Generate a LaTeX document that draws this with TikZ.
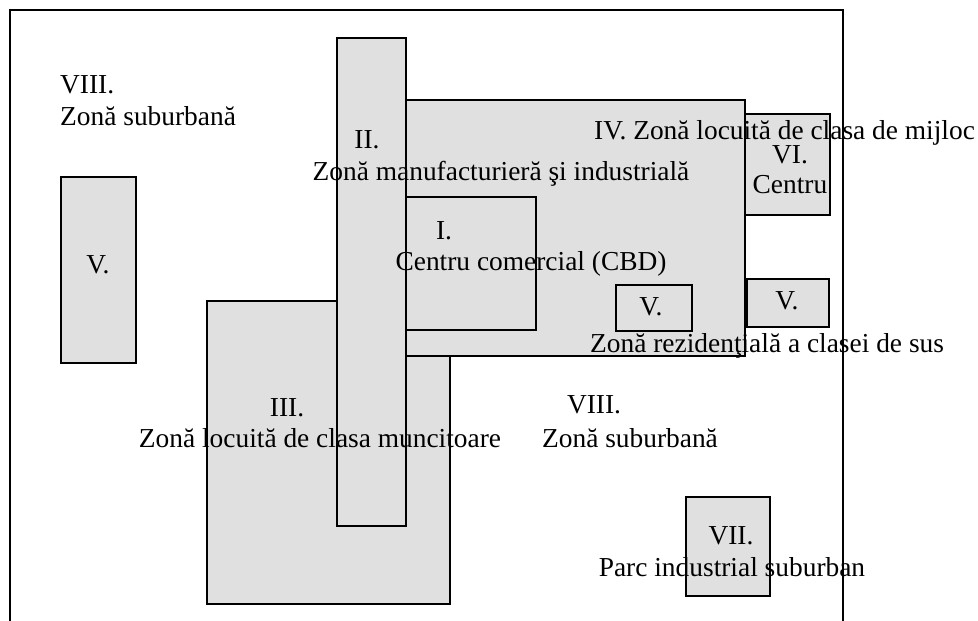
\documentclass[tikz,border=0pt]{standalone}
\usepackage{fontspec}
\setmainfont{Liberation Serif}
\usetikzlibrary{positioning}
\definecolor{zonegray}{RGB}{224,224,224}

\begin{document}
\begin{tikzpicture}[x=1pt, y=-1pt,
  zone/.style={rectangle, draw=black, fill=zonegray, line width=1.7pt,
    inner sep=0pt, outer sep=0pt, anchor=north west},
  lbl/.style={inner sep=0pt, anchor=base, font=\fontsize{27.4}{32}\selectfont},
  frameline/.style={line width=1.8pt}]
\useasboundingbox (0,0) rectangle (978,621);
\coordinate (fbl) at (10,621);
\coordinate (ftl) at (10,10);
\coordinate (ftr) at (843,10);
\coordinate (fbr) at (843,621);
\draw[frameline] (fbl) -- (ftl) -- (ftr) -- (fbr);
% zones, back to front
\foreach \n/\x/\y/\w/\h in {vL/61/177/75/186, z3/207/301/243/303, z4/372/100/373/256,
    z1/405/197/131/133, vIn/616/285/76/46, z6/745/114/85/101, vR/747/279/82/48,
    z2/337/38/69/488, z7/686/497/84/99}
  \node[zone, minimum width=\w pt, minimum height=\h pt] (\n) at (\x,\y) {};
% labels
\node[lbl, anchor=base west] (t8a) at (60,93) {VIII.};
\node[lbl, anchor=base west] (t8b) at (60,125) {Zonă suburbană};
\node[lbl] (t2a) at (367,148) {II.};
\node[lbl] (t2b) at (501,180) {Zonă manufacturieră şi industrială};
\node[lbl] (t1a) at (444,239) {I.};
\node[lbl] (t1b) at (531,270) {Centru comercial (CBD)};
\node[lbl, anchor=base west] (t4) at (594,139) {IV. Zonă locuită de clasa de mijloc};
\node[lbl] (t6a) at (790,163) {VI.};
\node[lbl] (t6b) at (790,193) {Centru};
\node[lbl] (t5a) at (98,273) {V.};
\node[lbl] (t5b) at (651,315) {V.};
\node[lbl] (t5c) at (787,309) {V.};
\node[lbl, anchor=base west] (t5d) at (590,352) {Zonă rezidenţială a clasei de sus};
\node[lbl] (t3a) at (287,416) {III.};
\node[lbl] (t3b) at (320,447) {Zonă locuită de clasa muncitoare};
\node[lbl] (t8c) at (594,413) {VIII.};
\node[lbl] (t8d) at (630,447) {Zonă suburbană};
\node[lbl] (t7a) at (731,544) {VII.};
\node[lbl] (t7b) at (732,576) {Parc industrial suburban};
\end{tikzpicture}
\end{document}
